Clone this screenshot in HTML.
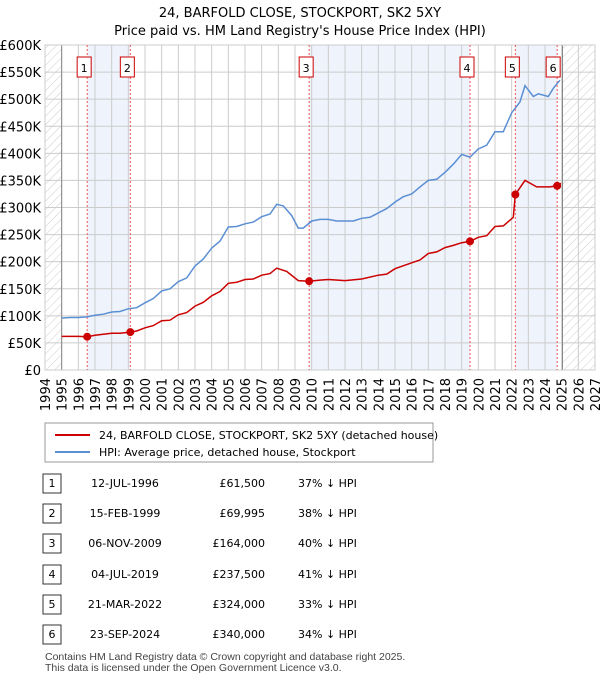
<!DOCTYPE html>
<html><head><meta charset="utf-8"><style>
body{margin:0;background:#fff;font-family:"Liberation Sans","DejaVu Sans",sans-serif;}
#wrap{position:relative;width:600px;height:680px;overflow:hidden;}
svg text{font-family:"DejaVu Sans","Liberation Sans",sans-serif;}
svg text.ft{font-family:"Liberation Sans","DejaVu Sans",sans-serif;}
</style></head><body>
<div id="wrap">
<svg id="svg" width="600" height="680" xmlns="http://www.w3.org/2000/svg">
<text x="300" y="17" text-anchor="middle" font-size="13">24, BARFOLD CLOSE, STOCKPORT, SK2 5XY</text>
<text x="300" y="35" text-anchor="middle" font-size="13">Price paid vs. HM Land Registry's House Price Index (HPI)</text>
<defs><pattern id="hatch" width="6" height="6" patternUnits="userSpaceOnUse" patternTransform="rotate(45)"><line x1="0" y1="0" x2="0" y2="6" stroke="#ccc" stroke-width="1"/></pattern></defs>
<g id="plot"></g>
<rect x="45" y="423" width="388" height="39" fill="#fff" stroke="#999"/>
<line x1="55" y1="435" x2="90" y2="435" stroke="#cc0000" stroke-width="2"/>
<text x="99" y="439" font-size="11">24, BARFOLD CLOSE, STOCKPORT, SK2 5XY (detached house)</text>
<line x1="55" y1="452" x2="90" y2="452" stroke="#5b8fd4" stroke-width="2"/>
<text x="99" y="456" font-size="11">HPI: Average price, detached house, Stockport</text>
<g id="table"></g>
<text class="ft" x="45" y="660" font-size="10.5" fill="#444">Contains HM Land Registry data © Crown copyright and database right 2025.</text>
<text class="ft" x="45" y="671" font-size="10.5" fill="#444">This data is licensed under the Open Government Licence v3.0.</text>
</svg>
</div>
<script>
const hpiDates=[1995,1995.5,1996,1996.5,1997,1997.5,1998,1998.5,1999,1999.5,2000,2000.5,2001,2001.5,2002,2002.5,2003,2003.5,2004,2004.5,2005,2005.5,2006,2006.5,2007,2007.5,2007.9,2008.3,2008.8,2009.2,2009.5,2010,2010.5,2011,2011.5,2012,2012.5,2013,2013.5,2014,2014.5,2015,2015.5,2016,2016.5,2017,2017.5,2018,2018.5,2019,2019.5,2020,2020.5,2021,2021.5,2022,2022.5,2022.8,2023.3,2023.6,2024.2,2024.5,2024.9];
const hpiValues=[96,97,97,98,101,103,107,108,113,115,124,132,146,150,163,170,192,205,225,238,264,265,270,273,283,288,306,303,285,262,262,275,278,278,275,275,275,280,282,290,298,310,320,325,338,350,352,365,380,398,393,408,415,440,440,475,495,525,505,510,505,520,535];
const priceDates=[1995,1995.5,1996,1996.53,1997,1997.5,1998,1998.5,1999.12,1999.5,2000,2000.5,2001,2001.5,2002,2002.5,2003,2003.5,2004,2004.5,2005,2005.5,2006,2006.5,2007,2007.5,2007.9,2008.5,2009.2,2009.85,2010.5,2011,2012,2013,2014,2014.5,2015,2016,2016.5,2017,2017.5,2018,2018.5,2019,2019.5,2020,2020.5,2021,2021.5,2022.1,2022.22,2022.8,2023.5,2024.3,2024.73,2024.95];
const priceValues=[62,62,62,61.5,64,66,68,68,70,72,78,82,91,92,102,106,118,125,137,145,160,162,167,168,175,178,188,182,165,164,166,167,165,168,175,177,187,198,203,215,218,226,230,235,237.5,245,248,265,266,282,324,350,338,338,340,345];
const saleLabels=["1","2","3","4","5","6"];
const saleDates=[1996.53,1999.12,2009.85,2019.5,2022.22,2024.73];
const saleDateText=["12-JUL-1996","15-FEB-1999","06-NOV-2009","04-JUL-2019","21-MAR-2022","23-SEP-2024"];
const salePrices=[61500,69995,164000,237500,324000,340000];
const salePriceText=["£61,500","£69,995","£164,000","£237,500","£324,000","£340,000"];
const saleHpiText=["37% ↓ HPI","38% ↓ HPI","40% ↓ HPI","41% ↓ HPI","33% ↓ HPI","34% ↓ HPI"];
const yTicks=[0,50,100,150,200,250,300,350,400,450,500,550,600];
const xTicks=[1994,1995,1996,1997,1998,1999,2000,2001,2002,2003,2004,2005,2006,2007,2008,2009,2010,2011,2012,2013,2014,2015,2016,2017,2018,2019,2020,2021,2022,2023,2024,2025,2026,2027];

const NS="http://www.w3.org/2000/svg";
const X0=45,X1=595,Y0=370,Y1=45;
const xs=d=>X0+(d-1994)/(2027-1994)*(X1-X0);
const ys=v=>Y0-v/600*(Y0-Y1);
const plot=document.getElementById('plot');
function mk(tag,at,parent){const e=document.createElementNS(NS,tag);for(const k in at)e.setAttribute(k,at[k]);(parent||plot).appendChild(e);return e;}

for(let i=0;i<saleDates.length-1;i+=2){
  const r=mk('rect',{x:xs(saleDates[i]),y:Y1,width:xs(saleDates[i+1])-xs(saleDates[i]),height:Y0-Y1,fill:'#eef3fc'});
  
  
}
let h1=mk('rect',{x:X0,y:Y1,width:xs(1995)-X0,height:Y0-Y1,fill:'url(#hatch)'});


let h2=mk('rect',{x:xs(2025.05),y:Y1,width:X1-xs(2025.05),height:Y0-Y1,fill:'url(#hatch)'});


yTicks.forEach(t=>{
  const l=mk('line',{x1:X0,x2:X1,y1:ys(t),y2:ys(t),stroke:'#ccc'});
  
  
  const tx=mk('text',{x:X0-4,y:ys(t)+5,'text-anchor':'end','font-size':'13'});
  tx.textContent=t===0?'£0':'£'+t+'K';
  
  
});
xTicks.forEach(t=>{
  const l=mk('line',{x1:xs(t),x2:xs(t),y1:Y1,y2:Y0,stroke:'#ccc'});
  
  
  const tx=mk('text',{x:0,y:0,'text-anchor':'end','font-size':'13',transform:`translate(${xs(t)+5},${Y0+8}) rotate(-90)`});
  tx.textContent=t;
  
  
});
let v1=mk('line',{x1:xs(1995),x2:xs(1995),y1:Y1,y2:Y0,stroke:'#888'});


let v2=mk('line',{x1:xs(2025.05),x2:xs(2025.05),y1:Y1,y2:Y0,stroke:'#888'});


let fr=mk('rect',{x:X0,y:Y1,width:X1-X0,height:Y0-Y1,fill:'none',stroke:'#ccc'});


saleDates.forEach((d,i)=>{
  const l=mk('line',{x1:xs(d),x2:xs(d),y1:Y1,y2:Y0,stroke:'#e55','stroke-dasharray':'2,2','stroke-width':'1'});
  
  
  const bx=mk('rect',{x:xs(d)-(i===5?11:10),y:57,width:14,height:20,fill:'#fff',stroke:'#c00'});
  
  
  const tx=mk('text',{x:xs(d)-(i===5?4:3),y:72,'text-anchor':'middle','font-size':'11'});
  tx.textContent=saleLabels[i];
  
  
});
const path=(D,V)=>D.map((d,i)=>(i?'L':'M')+xs(d).toFixed(1)+','+ys(V[i]).toFixed(1)).join('');
let hp=mk('path',{d:path(hpiDates,hpiValues),fill:'none',stroke:'#5b8fd4','stroke-width':'1.5'});


let pp=mk('path',{d:path(priceDates,priceValues),fill:'none',stroke:'#cc0000','stroke-width':'1.5'});


saleDates.forEach((d,i)=>{
  const c=mk('circle',{cx:xs(d),cy:ys(salePrices[i]/1000),r:4,fill:'#cc0000'});
  
  
});
const tb=document.getElementById('table');
const rowY=[483,513,543,574,604,634];
saleLabels.forEach((s,i)=>{
  const y=rowY[i];
  const b=mk('rect',{x:43,y:y-9,width:18,height:19,fill:'#fff',stroke:'#333'},tb);
  
  
  const n=mk('text',{x:52,y:y+4,'text-anchor':'middle','font-size':'11'},tb);n.textContent=s;
  
  
  const dt=mk('text',{x:125,y:y+4,'text-anchor':'middle','font-size':'11'},tb);dt.textContent=saleDateText[i];
  
  
  const pr=mk('text',{x:265,y:y+4,'text-anchor':'end','font-size':'11'},tb);pr.textContent=salePriceText[i];
  
  
  const hv=mk('text',{x:298,y:y+4,'font-size':'11'},tb);hv.textContent=saleHpiText[i];
  
  
});
</script>
</body></html>
